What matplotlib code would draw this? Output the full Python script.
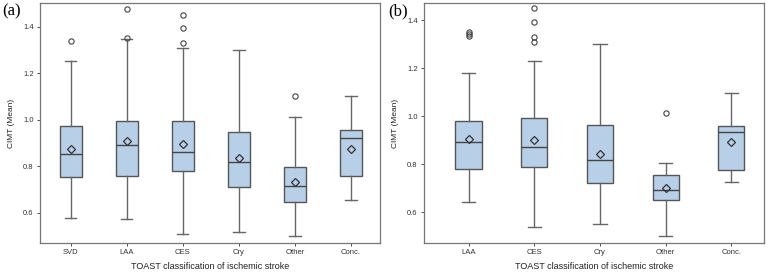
import numpy as np
import matplotlib
matplotlib.use("Agg")
import matplotlib.pyplot as plt

plt.rcParams['font.family'] = ['Liberation Sans', 'DejaVu Sans']

# panel (a)
cats_a = ['SVD', 'LAA', 'CES', 'Cry', 'Other', 'Conc.']
q1_a = [0.754, 0.760, 0.779, 0.713, 0.649, 0.760]
med_a = [0.854, 0.891, 0.861, 0.820, 0.714, 0.921]
q3_a = [0.974, 0.994, 0.994, 0.949, 0.799, 0.955]
lo_a = [0.579, 0.574, 0.510, 0.520, 0.499, 0.655]
hi_a = [1.254, 1.346, 1.310, 1.300, 1.014, 1.100]
mean_a = [0.873, 0.909, 0.897, 0.834, 0.731, 0.873]
fliers_a = [[1.336], [1.353, 1.474], [1.331, 1.396, 1.451], [], [1.100], []]

# panel (b)
cats_b = ['LAA', 'CES', 'Cry', 'Other', 'Conc.']
q1_b = [0.778, 0.789, 0.721, 0.650, 0.775]
med_b = [0.893, 0.869, 0.818, 0.693, 0.935]
q3_b = [0.978, 0.993, 0.962, 0.754, 0.958]
lo_b = [0.640, 0.539, 0.549, 0.499, 0.725]
hi_b = [1.178, 1.229, 1.299, 0.803, 1.097]
mean_b = [0.904, 0.900, 0.840, 0.700, 0.893]
fliers_b = [[1.333, 1.343, 1.350], [1.308, 1.331, 1.393, 1.449], [], [1.014], []]

edge = '#555555'
fill = '#b8cfe8'


def draw(ax, cats, q1, med, q3, lo, hi, mean, fliers, xlim, ylim, tag):
    stats = []
    for i in range(len(cats)):
        stats.append(dict(q1=q1[i], med=med[i], q3=q3[i], whislo=lo[i],
                          whishi=hi[i], mean=mean[i], fliers=fliers[i]))
    ax.bxp(stats, positions=range(len(cats)), widths=0.4, patch_artist=True,
           showmeans=True,
           boxprops=dict(facecolor=fill, edgecolor=edge, linewidth=1.0),
           medianprops=dict(color='#444444', linewidth=1.0),
           whiskerprops=dict(color='#666666', linewidth=1.0),
           capprops=dict(color='#666666', linewidth=1.0),
           meanprops=dict(marker='D', markerfacecolor='none',
                          markeredgecolor='#333333', markersize=4.5,
                          markeredgewidth=0.9),
           flierprops=dict(marker='o', markerfacecolor='none',
                           markeredgecolor='#444444', markersize=3.8,
                           markeredgewidth=0.8))
    ax.set_xticks(range(len(cats)))
    ax.set_xticklabels(cats)
    ax.set_xlim(*xlim)
    ax.set_ylim(*ylim)
    ax.set_yticks([0.6, 0.8, 1.0, 1.2, 1.4])
    ax.set_yticklabels(['0.6', '0.8', '1.0', '1.2', '1.4'])
    ax.tick_params(labelsize=5.5, colors='#333333', length=2.5, width=0.6,
                   pad=2)
    for s in ax.spines.values():
        s.set_color('#777777')
        s.set_linewidth(0.9)
    ax.set_ylabel('CIMT (Mean)', fontsize=6, color='#222222', labelpad=6)
    ax.set_xlabel('TOAST classification of ischemic stroke', fontsize=6.5,
                  color='#222222', labelpad=4)


fig = plt.figure(figsize=(7.68, 2.73), dpi=100)
ax1 = fig.add_axes([0.052, 0.109, 0.443, 0.879])
ax2 = fig.add_axes([0.552, 0.109, 0.443, 0.879])

draw(ax1, cats_a, q1_a, med_a, q3_a, lo_a, hi_a, mean_a, fliers_a,
     (-0.55, 5.52), (0.47, 1.5), '(a)')
draw(ax2, cats_b, q1_b, med_b, q3_b, lo_b, hi_b, mean_b, fliers_b,
     (-0.68, 4.5), (0.47, 1.47), '(b)')

fig.text(0.003, 0.945, '(a)', fontsize=12, family='Liberation Serif')
fig.text(0.505, 0.945, '(b)', fontsize=12, family='Liberation Serif')

fig.savefig('out.png', dpi=100)
